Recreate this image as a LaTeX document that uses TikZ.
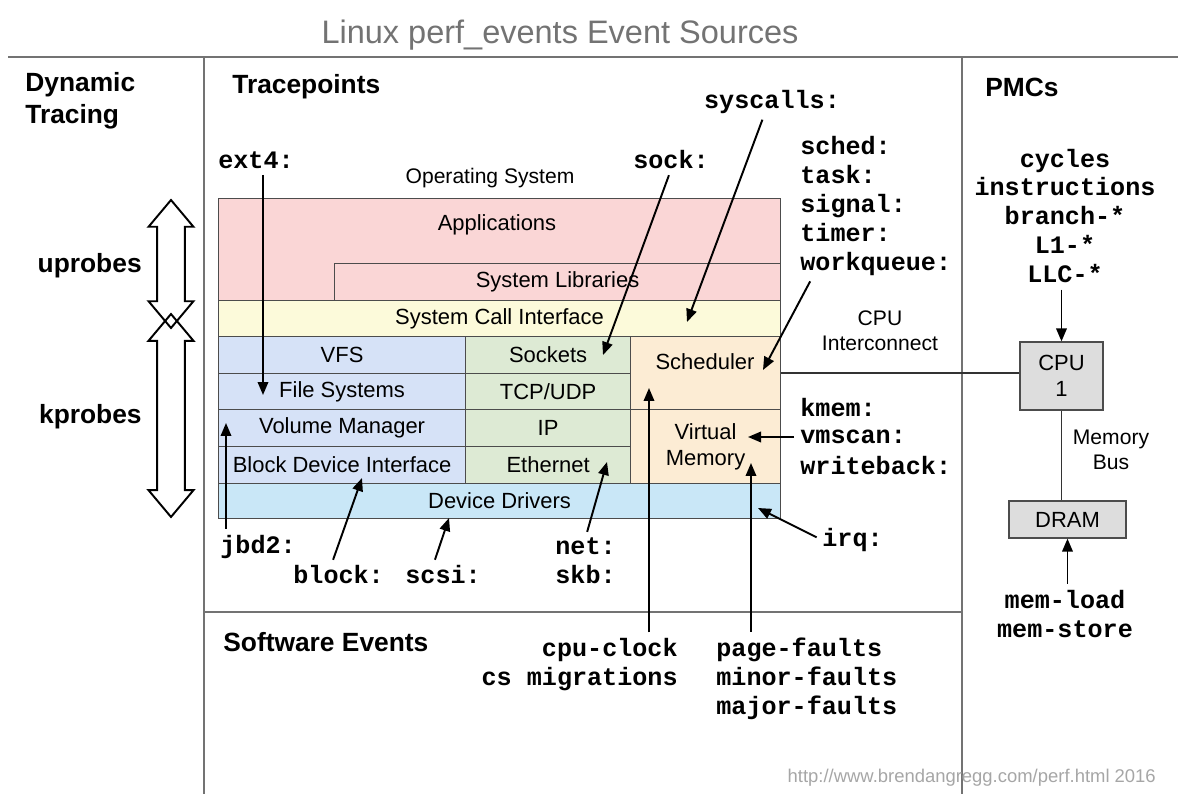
\documentclass[tikz,border=0pt]{standalone}
\usepackage{fontspec}
\setmainfont{Liberation Sans}
\setmonofont{Liberation Mono}
\usepackage{tikz}
\usetikzlibrary{arrows.meta, shapes.arrows}
\definecolor{appcol}{RGB}{250,214,214}
\definecolor{scicol}{RGB}{252,250,218}
\definecolor{fscol}{RGB}{214,226,247}
\definecolor{netcol}{RGB}{221,234,212}
\definecolor{schedcol}{RGB}{252,236,212}
\definecolor{drvcol}{RGB}{201,231,247}
\definecolor{hwgray}{RGB}{221,221,221}

\begin{document}
\begin{tikzpicture}[x=0.02cm, y=-0.02cm,
    frame/.style={draw=black!55, line width=1.2pt},
    layer/.style={draw=black!70, line width=0.7pt, anchor=north west, inner sep=0pt,
      font=\fontsize{12.5}{15}\selectfont, align=center},
    lbl/.style={inner sep=0pt, font=\fontsize{12.5}{15}\selectfont, align=center},
    head/.style={inner sep=0pt, align=left, font=\fontsize{15}{18}\selectfont\bfseries},
    ev/.style={inner sep=0pt, font=\fontsize{14.3}{16.5}\selectfont\ttfamily\bfseries},
    arr/.style={-{Triangle[length=2.6mm, width=2.1mm]}, line width=1.1pt, shorten <=1.2mm},
    link/.style={line width=1.1pt, black!80},
    hw/.style={draw=black!70, fill=hwgray, line width=0.7pt, align=center, inner sep=0pt,
      font=\fontsize{12.5}{14.5}\selectfont},
    probe/.style={double arrow, draw, line width=1.1pt, rotate=90, inner xsep=0pt,
      inner ysep=2.6mm, double arrow head extend=1.7mm, double arrow tip angle=80}]
  \useasboundingbox (0,0) rectangle (1178,794);

  \node[text=black!55, font=\fontsize{18.5}{22}\selectfont] (title) at (560,35)
    {Linux perf\_events Event Sources};
  \draw[frame] (8,57) -- (1178,57);
  \draw[frame] (204,57) -- (204,794);
  \draw[frame] (962,57) -- (962,794);
  \draw[frame] (204,612) -- (962,612);

  \node[head, anchor=west] (dyn) at (25,101) {Dynamic\\Tracing};
  \node[head, anchor=west] (tracep) at (232,87) {Tracepoints};
  \node[head, anchor=west] (pmcs) at (985,87) {PMCs};
  \node[head, anchor=west] (swev) at (223,642) {Software Events};
  \node[head, anchor=east] (uprobes) at (142,266) {uprobes};
  \node[head, anchor=east] (kprobes) at (142,417) {kprobes};
  \node[probe, minimum height=25.6mm] (uparr) at (171,264) {};
  \node[probe, minimum height=40.6mm] (karr) at (171,415.5) {};

  % operating system stack
  \node[lbl, font=\fontsize{12}{14}\selectfont] (os) at (490,178) {Operating System};
  \node[layer, fill=appcol, minimum width=112.4mm, minimum height=20.4mm] (apps) at (218,198) {};
  \node[lbl] (appslbl) at (497,225) {Applications};
  \node[layer, fill=appcol, minimum width=89.2mm, minimum height=7.4mm] (syslib) at (334,263) {System Libraries};
  \node[layer, fill=scicol, minimum width=112.4mm, minimum height=7.2mm] (sci) at (218,300) {System Call Interface};
  \node[layer, fill=fscol, minimum width=49.4mm, minimum height=7.4mm] (vfs) at (218,336) {VFS};
  \node[layer, fill=fscol, minimum width=49.4mm, minimum height=7.2mm] (fsys) at (218,373) {File Systems};
  \node[layer, fill=fscol, minimum width=49.4mm, minimum height=7.4mm] (volm) at (218,409) {Volume Manager};
  \node[layer, fill=fscol, minimum width=49.4mm, minimum height=7.4mm] (bdi) at (218,446) {Block Device Interface};
  \node[layer, fill=netcol, minimum width=33mm, minimum height=7.4mm] (sockets) at (465,336) {Sockets};
  \node[layer, fill=netcol, minimum width=33mm, minimum height=7.2mm] (tcp) at (465,373) {TCP/UDP};
  \node[layer, fill=netcol, minimum width=33mm, minimum height=7.4mm] (ip) at (465,409) {IP};
  \node[layer, fill=netcol, minimum width=33mm, minimum height=7.4mm] (eth) at (465,446) {Ethernet};
  \node[layer, fill=schedcol, minimum width=30mm, minimum height=14.6mm] (sched) at (630,336) {};
  \node[lbl] (schedlbl) at (705,362) {Scheduler};
  \node[layer, fill=schedcol, minimum width=30mm, minimum height=14.8mm] (virtmem) at (630,409) {Virtual\\Memory};
  \node[layer, fill=drvcol, minimum width=112.4mm, minimum height=7mm] (drivers) at (218,483) {Device Drivers};

  % hardware
  \node[hw, minimum width=16.6mm, minimum height=13.6mm] (cpu) at (1061.5,376) {CPU\\1};
  \node[hw, minimum width=23.4mm, minimum height=7.4mm] (dram) at (1067.5,519.5) {DRAM};
  \node[lbl, font=\fontsize{12}{14}\selectfont] (icon) at (880,331) {CPU\\Interconnect};
  \node[lbl, font=\fontsize{12}{14}\selectfont] (membus) at (1111,450) {Memory\\Bus};
  \draw[link] (sched.east) -- (sched.east -| cpu.west);
  \draw[link] (cpu.south) -- (cpu.south |- dram.north);

  % event names
  \node[ev] (ext4) at (256,160) {ext4:};
  \node[ev] (sock) at (671,160) {sock:};
  \node[ev] (syscalls) at (772,102) {syscalls:};
  \node[ev, anchor=west, align=left] (schedl) at (800,206) {sched:\\task:\\signal:\\timer:\\workqueue:};
  \node[ev, align=center] (pmc) at (1065,216) {cycles\\instructions\\branch-*\\L1-*\\LLC-*};
  \node[ev, anchor=west] (kmem) at (800,408) {kmem:};
  \node[ev, anchor=west] (vmscan) at (800,437) {vmscan:};
  \node[ev, anchor=west] (wback) at (800,466) {writeback:};
  \node[ev, anchor=west] (irq) at (822,540) {irq:};
  \node[ev, anchor=west] (jbd2) at (220,547) {jbd2:};
  \node[ev, anchor=west] (block) at (293,575) {block:};
  \node[ev, anchor=west] (scsi) at (405,575) {scsi:};
  \node[ev, anchor=west, align=left] (net) at (555,561) {net:\\skb:};
  \node[ev, anchor=east, align=right] (cpuclk) at (678,665) {cpu-clock\\cs migrations};
  \node[ev, anchor=west, align=left] (pgf) at (716,679) {page-faults\\minor-faults\\major-faults};
  \node[ev, align=center] (mem) at (1065,614) {mem-load\\mem-store};
  \node[text=black!35, font=\fontsize{10.5}{12}\selectfont, anchor=east] (url) at (1162,778)
    {http://www.brendangregg.com/perf.html 2016};

  \coordinate (tExt) at (263,395);
  \coordinate (tSock) at (603,355);
  \coordinate (tSys) at (687,322);
  \coordinate (tWq) at (763,370);
  \coordinate (tVm) at (748,437);
  \coordinate (tIrq) at (758,508);
  \coordinate (tJbd) at (226,423);
  \coordinate (tBlk) at (362,478);
  \coordinate (tScsi) at (449,518);
  \coordinate (tNet) at (607,462);
  \coordinate (tClk) at (649,388);
  \coordinate (tPf) at (751,463);
  \draw[arr] (ext4.south -| tExt) -- (tExt);
  \draw[arr] (sock.south) -- (tSock);
  \draw[arr] ([xshift=-1.5mm]syscalls.south) -- (tSys);
  \draw[arr] ([xshift=2.6mm]schedl.south west) -- (tWq);
  \draw[arr] (vmscan.west) -- (tVm);
  \draw[arr] (irq.west) -- (tIrq);
  \draw[arr] (jbd2.north -| tJbd) -- (tJbd);
  \draw[arr] ([xshift=-1.5mm]block.north) -- (tBlk);
  \draw[arr] ([xshift=-2mm]scsi.north) -- (tScsi);
  \draw[arr] (net.north) -- (tNet);
  \draw[arr] (cpuclk.north -| tClk) -- (tClk);
  \draw[arr] (pgf.north -| tPf) -- (tPf);
  \draw[arr] (pmc.south -| cpu.north) -- (cpu.north);
  \draw[arr] (mem.north -| dram.south) -- (dram.south);
\end{tikzpicture}
\end{document}
